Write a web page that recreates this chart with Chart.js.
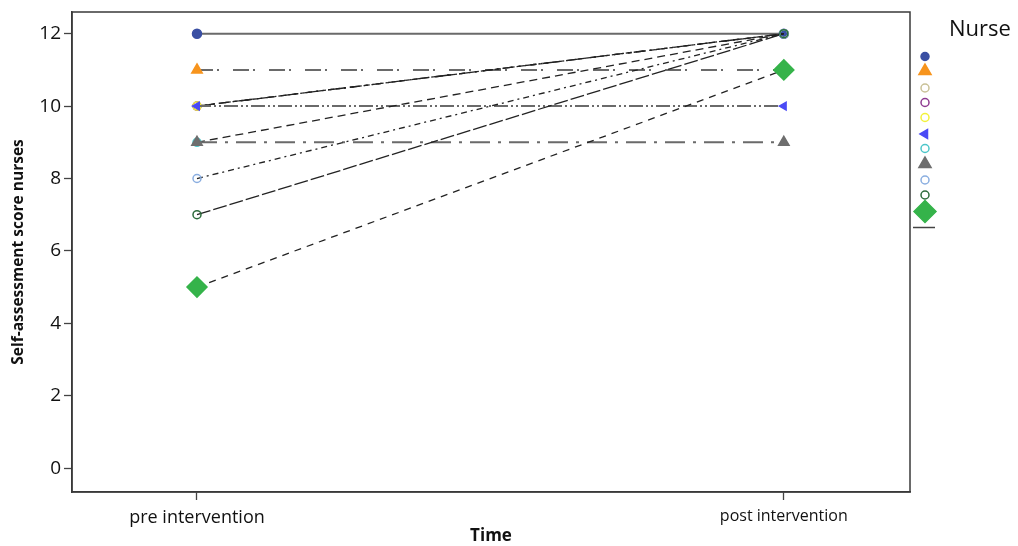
<!DOCTYPE html>
<html>
<head>
<meta charset="utf-8">
<script src="https://cdn.jsdelivr.net/npm/chart.js@4"></script>
<style>
html,body{margin:0;padding:0;background:#fff;}
#wrap{width:1018px;height:546px;position:relative;}
</style>
</head>
<body>
<div id="wrap"><canvas id="c"></canvas></div>
<script>
// ---- data ----
const timeLabels = ['pre intervention', 'post intervention'];
const timeValues = [0, 1];
const yTicks = [0, 2, 4, 6, 8, 10, 12];
const nurses = ['1', '2', '3', '4', '5', '6', '7', '8', '9', '10', '11'];
const preScores  = [12, 11, 10, 10, 10, 10, 9, 9, 8, 7, 5];
const postScores = [12, 11, 12, 12, 12, 10, 12, 9, 12, 12, 11];

// ---- styles ----
const markerStyle = [
  {shape:'circle',   color:'#3a4fa3', fill:true,  r:4.5, rot:0},
  {shape:'triangle', color:'#f7941d', fill:true,  r:6,   rot:0},
  {shape:'circle',   color:'#c9c197', fill:false, r:4,   rot:0},
  {shape:'circle',   color:'#8e3b91', fill:false, r:4,   rot:0},
  {shape:'circle',   color:'#f2f23a', fill:false, r:4,   rot:0},
  {shape:'triangle', color:'#4a4af5', fill:true,  r:4.5, rot:-90},
  {shape:'circle',   color:'#4cc6c9', fill:false, r:4,   rot:0},
  {shape:'triangle', color:'#6e6e6e', fill:true,  r:6,   rot:0},
  {shape:'circle',   color:'#8aaee0', fill:false, r:4,   rot:0},
  {shape:'circle',   color:'#2d6b3c', fill:false, r:4,   rot:0},
  {shape:'rectRot',  color:'#35b34a', fill:true,  r:10,  rot:0}
];
const lineStyle = [
  {dash:[],                 color:'#6a6a6a', w:2},
  {dash:[16,4,2,14],        color:'#6a6a6a', w:2},
  {dash:[12,4,2,4],         color:'#222',    w:1.3},
  {dash:[6,6],              color:'#222',    w:1.3},
  {dash:[4,4,2,4],          color:'#222',    w:1.3},
  {dash:[14,3,2,3,2,3],     color:'#6a6a6a', w:2},
  {dash:[8,5],              color:'#222',    w:1.3},
  {dash:[20,8,3,8],         color:'#6a6a6a', w:2},
  {dash:[6,4,2,4],          color:'#222',    w:1.3},
  {dash:[14,3],             color:'#222',    w:1.3},
  {dash:[7,6],              color:'#222',    w:1.3}
];

const FONT = "'Open Sans', 'DejaVu Sans', sans-serif";

const datasets = nurses.map((n, i) => ({
  label: 'Nurse ' + n,
  data: [{x: timeValues[0], y: preScores[i]}, {x: timeValues[1], y: postScores[i]}],
  borderColor: lineStyle[i].color,
  borderWidth: lineStyle[i].w,
  borderDash: lineStyle[i].dash,
  pointStyle: markerStyle[i].shape,
  pointRotation: markerStyle[i].rot,
  pointRadius: markerStyle[i].r,
  pointHoverRadius: markerStyle[i].r,
  pointBorderColor: markerStyle[i].color,
  pointBackgroundColor: markerStyle[i].fill ? markerStyle[i].color : 'rgba(255,255,255,0)',
  pointBorderWidth: 1.5,
  showLine: true,
  fill: false,
  tension: 0,
  order: -i
}));

const frame = {
  id: 'frame',
  afterDraw(chart) {
    const {ctx, chartArea: a} = chart;
    ctx.save();
    ctx.strokeStyle = '#3a3a3a';
    ctx.lineWidth = 1.5;
    ctx.strokeRect(a.left, a.top, a.right - a.left, a.bottom - a.top);
    ctx.restore();
  }
};

const legendPlugin = {
  id: 'nurseLegend',
  afterDraw(chart) {
    const ctx = chart.ctx;
    ctx.save();
    ctx.fillStyle = '#111';
    ctx.font = "22px " + FONT;
    ctx.textAlign = 'left';
    ctx.textBaseline = 'middle';
    ctx.fillText('Nurse', 949, 30);
    const x = 925;
    const ys = [56.5, 71, 88, 102.5, 117.5, 134, 148.5, 164, 180, 195, 211.5];
    markerStyle.forEach((m, i) => {
      ctx.strokeStyle = m.color;
      ctx.fillStyle = m.fill ? m.color : 'rgba(255,255,255,0)';
      ctx.lineWidth = 1.5;
      const r = m.shape === 'rectRot' ? 11 : (m.shape === 'triangle' ? (m.rot ? 5 : 7) : 4);
      Chart.helpers.drawPoint(ctx, {pointStyle: m.shape, radius: r, rotation: m.rot, borderWidth: 1.5}, x, ys[i]);
    });
    ctx.strokeStyle = '#444';
    ctx.lineWidth = 1.5;
    ctx.beginPath();
    ctx.moveTo(913, 227.5);
    ctx.lineTo(935, 227.5);
    ctx.stroke();
    ctx.restore();
  }
};

new Chart(document.getElementById('c'), {
  type: 'scatter',
  data: { datasets },
  options: {
    responsive: true,
    maintainAspectRatio: false,
    animation: false,
    layout: { padding: { top: 12, right: 108, left: 9, bottom: 0 } },
    plugins: { legend: { display: false }, tooltip: { enabled: false } },
    scales: {
      x: {
        type: 'linear',
        min: -0.213,
        max: 1.215,
        afterBuildTicks: s => { s.ticks = timeValues.map(v => ({value: v})); },
        afterFit: s => { s.height = 54; s.paddingLeft = 0; s.paddingRight = 0; },
        ticks: {
          callback: (v) => { const k = timeValues.indexOf(v); return k >= 0 ? timeLabels[k] : ''; },
          color: '#111',
          font: (ctx) => ({ family: FONT, size: (ctx.tick && ctx.tick.value === timeValues[0]) ? 18 : 16 }),
          padding: 7,
          maxRotation: 0
        },
        grid: { drawOnChartArea: false, tickLength: 8, color: '#444', tickWidth: 1.3, tickColor: '#444' },
        border: { color: '#3a3a3a', width: 1.5 },
        title: { display: true, text: 'Time', color: '#111', font: { family: FONT, size: 17, weight: 'bold' }, padding: { top: -4, bottom: 0 } }
      },
      y: {
        type: 'linear',
        min: -0.66,
        max: 12.6,
        afterBuildTicks: s => { s.ticks = yTicks.map(v => ({value: v})); },
        afterFit: s => { s.width = 63; s.paddingTop = 0; s.paddingBottom = 0; },
        ticks: {
          color: '#111',
          font: { family: FONT, size: 19 },
          padding: 3
        },
        grid: { drawOnChartArea: false, tickLength: 8, tickColor: '#444', tickWidth: 1.3 },
        border: { color: '#3a3a3a', width: 1.5 },
        title: { display: true, text: 'Self-assessment score nurses', color: '#111', font: { family: FONT, size: 15.5, weight: 'bold' }, padding: { top: 0, bottom: 0 } }
      }
    }
  },
  plugins: [frame, legendPlugin]
});
</script>
</body>
</html>
